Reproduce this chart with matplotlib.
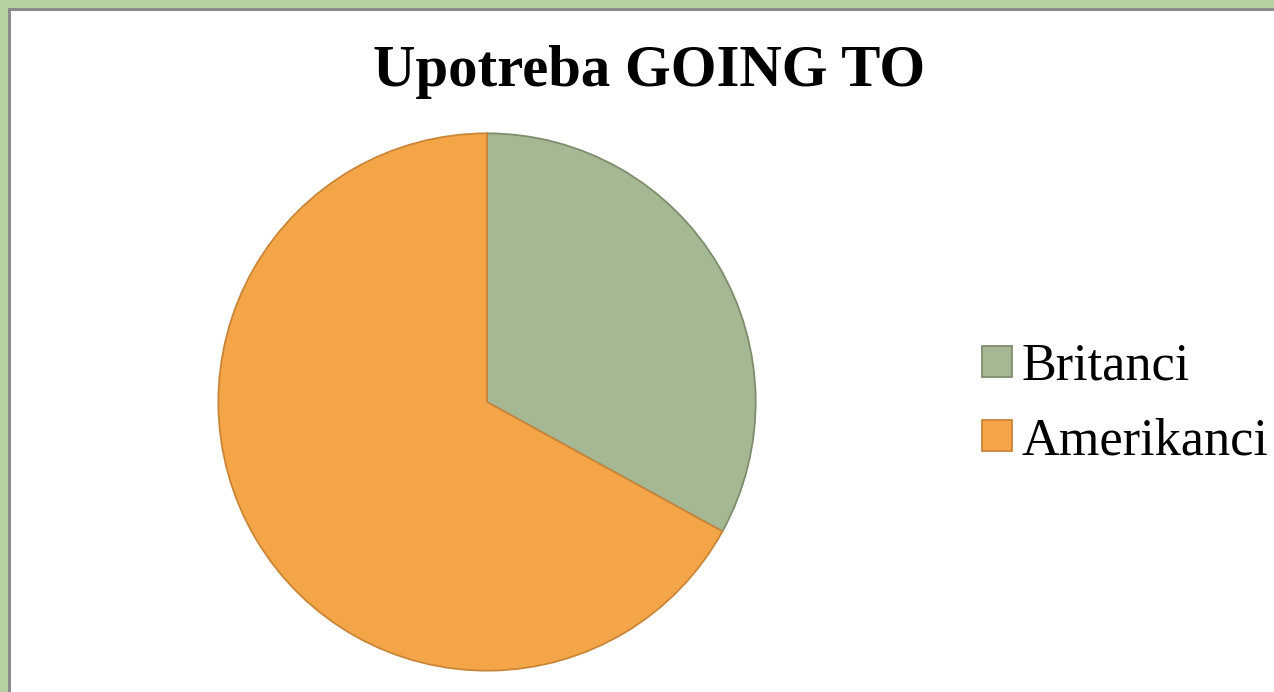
import matplotlib
matplotlib.use("Agg")
import matplotlib.pyplot as plt
from matplotlib.patches import Rectangle
from matplotlib.lines import Line2D

title = "Upotreba GOING TO"
categories = ["Britanci", "Amerikanci"]
values = [33, 67]
colors = ["#A6B794", "#F4A547"]
edge_colors = ["#7E8E6C", "#C98638"]

W, H = 1274, 692
fig = plt.figure(figsize=(W / 100, H / 100), dpi=100)
fig.patch.set_facecolor("#B7D0A2")

# white panel with grey rim
fig.add_artist(Rectangle((10 / W, 0), 1, 1 - 10 / H, transform=fig.transFigure,
                         facecolor="white", edgecolor="none", zorder=0))
fig.add_artist(Line2D([9 / W, 1], [1 - 9 / H, 1 - 9 / H], transform=fig.transFigure,
                      color="#8C8C8C", lw=2.2, zorder=1))
fig.add_artist(Line2D([9 / W, 9 / W], [0, 1 - 9 / H], transform=fig.transFigure,
                      color="#8C8C8C", lw=2.2, zorder=1))

cx, cy, r = 487, 402, 270
ax = fig.add_axes([(cx - r) / W, (H - cy - r) / H, 2 * r / W, 2 * r / H])
wedges, _ = ax.pie(values, colors=colors, startangle=90, counterclock=False,
                   radius=1, wedgeprops=dict(linewidth=1.3))
for w, ec in zip(wedges, edge_colors):
    w.set_edgecolor(ec)
ax.set_xlim(-1.005, 1.005)
ax.set_ylim(-1.005, 1.005)
ax.set_aspect("equal")
ax.axis("off")

fig.text(649 / W, 1 - 86 / H, title, ha="center", va="baseline",
         fontsize=42.3, fontweight="bold", family="Liberation Serif")

leg = fig.legend(wedges, categories, loc="center left",
                 bbox_to_anchor=(982 / W, 1 - 404 / H),
                 frameon=False, prop={"family": "Liberation Serif", "size": 37.6},
                 handlelength=0.57, handleheight=0.52, handletextpad=0.18,
                 labelspacing=0.5, borderpad=0, borderaxespad=0)

fig.savefig("out.png", dpi=100)
